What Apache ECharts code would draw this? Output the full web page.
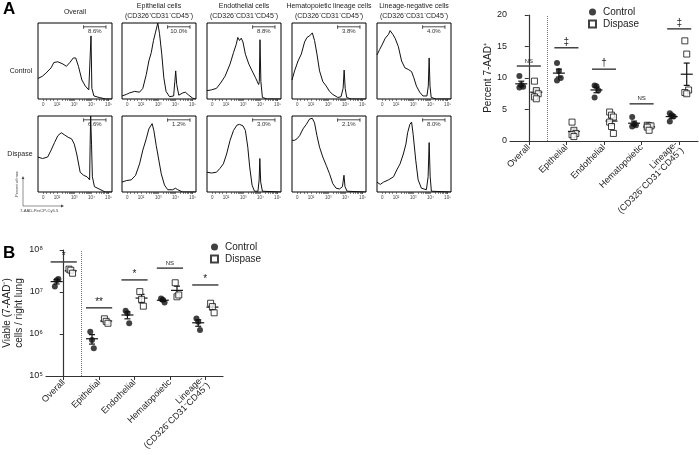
<!DOCTYPE html>
<html lang="en">
<head>
<meta charset="UTF-8">
<title>7-AAD viability by lineage</title>
<script src="https://cdn.jsdelivr.net/npm/echarts@6.0.0/dist/echarts.min.js"></script>
<style>
    html, body { margin: 0; padding: 0; background: #fff; }
    #main { width: 699px; height: 455px; }
</style>
</head>
<body>
<div id="main"></div>
<script type="text/javascript">

// ---------- data ----------
var categories = ['Overall', 'Epithelial', 'Endothelial', 'Hematopoietic', 'Lineage-\n(CD326⁻CD31⁻CD45⁻)'];
var histTitles = [
    ['Overall'],
    ['Epithelial cells', '(CD326⁺CD31⁻CD45⁻)'],
    ['Endothelial cells', '(CD326⁻CD31⁺CD45⁻)'],
    ['Hematopoietic lineage cells', '(CD326⁻CD31⁻CD45⁺)'],
    ['Lineage-negative cells', '(CD326⁻CD31⁻CD45⁻)']
];
var rowNames = ['Control', 'Dispase'];
var histTickPos = [1.2, 2, 3, 4, 5];
var histTickLabels = ['0', '10²', '10³', '10⁴', '10⁵'];
var gateRange = [3.55, 4.85];
var gateControl = ['8.6%', '10.0%', '8.8%', '3.8%', '4.0%'];
var gateDispase = ['6.6%', '1.2%', '3.0%', '2.1%', '8.0%'];

// histogram curves: [log10 fluorescence position, percent of max]
var histCtlOverall = [[0.9,27],[1.16,30],[1.36,34],[1.66,41],[1.82,48],[2.05,49],[2.35,46],[2.55,43],[2.75,48],[2.95,54],[3.09,54],[3.25,43],[3.45,25],[3.65,17],[3.85,12],[3.94,10],[3.98,83],[4.03,14],[4.15,4],[4.45,2],[4.84,0],[5.2,0]];
var histCtlEpi = [[0.9,4],[1.15,6],[1.34,8],[1.63,10],[1.92,9],[2.11,14],[2.31,32],[2.46,50],[2.6,61],[2.73,77],[2.85,88],[2.98,100],[3.08,86],[3.21,59],[3.33,28],[3.46,10],[3.66,3],[3.9,4],[3.97,23],[4.02,37],[4.08,19],[4.2,5],[4.43,8],[4.58,9],[4.78,5],[5.01,1],[5.2,0]];
var histCtlEndo = [[0.9,11],[1.16,12],[1.45,14],[1.69,21],[1.95,30],[2.24,46],[2.44,61],[2.6,72],[2.69,81],[2.79,77],[2.89,80],[2.99,75],[3.13,59],[3.33,46],[3.52,37],[3.72,28],[3.9,19],[3.94,23],[3.98,78],[4.03,23],[4.12,2],[4.41,0],[5.2,0]];
var histCtlHem = [[0.9,25],[1.05,37],[1.25,50],[1.44,59],[1.63,75],[1.77,81],[1.92,83],[2.08,87],[2.21,77],[2.35,59],[2.5,37],[2.69,23],[2.89,17],[3.08,10],[3.27,6],[3.56,2],[3.75,3],[3.87,14],[3.93,38],[3.99,14],[4.08,2],[4.33,0],[5.2,0]];
var histCtlLin = [[0.9,58],[1.05,65],[1.19,71],[1.38,80],[1.57,85],[1.66,90],[1.82,85],[1.95,80],[2.14,69],[2.33,50],[2.52,41],[2.71,39],[2.91,36],[3.04,28],[3.19,17],[3.38,9],[3.57,4],[3.8,4],[3.88,17],[3.93,54],[3.98,17],[4.05,2],[4.34,0],[5.2,0]];
var histDisOverall = [[0.9,46],[1.16,44],[1.46,46],[1.66,55],[1.86,65],[2.05,74],[2.25,78],[2.45,75],[2.65,72],[2.85,70],[3.01,63],[3.15,50],[3.35,26],[3.55,22],[3.75,20],[3.9,16],[3.93,63],[3.96,100],[4.01,63],[4.06,20],[4.18,7],[4.45,4],[4.8,0],[5.2,0]];
var histDisEpi = [[0.9,13],[1.15,15],[1.44,16],[1.69,22],[1.92,37],[2.11,55],[2.31,70],[2.46,83],[2.65,90],[2.75,81],[2.89,61],[3.04,42],[3.18,24],[3.37,9],[3.56,3],[3.85,3],[4.0,5],[4.14,3],[4.43,0],[5.2,0]];
var histDisEndo = [[0.9,26],[1.16,25],[1.45,26],[1.65,31],[1.85,37],[2.04,50],[2.24,68],[2.44,81],[2.64,88],[2.79,89],[2.99,87],[3.13,81],[3.27,59],[3.38,33],[3.52,9],[3.66,1],[3.86,1],[3.93,16],[3.97,44],[4.02,13],[4.12,1],[5.2,0]];
var histDisHem = [[0.9,68],[1.05,68],[1.19,70],[1.34,74],[1.54,83],[1.73,89],[1.92,96],[2.08,97],[2.21,91],[2.35,74],[2.5,59],[2.69,46],[2.89,35],[3.08,24],[3.27,11],[3.46,5],[3.66,4],[3.83,7],[3.92,22],[3.98,7],[4.1,1],[5.2,0]];
var histDisLin = [[0.9,13],[1.09,10],[1.28,13],[1.57,16],[1.86,20],[2.05,29],[2.24,37],[2.43,50],[2.58,63],[2.68,78],[2.81,89],[2.91,92],[3.0,76],[3.15,42],[3.29,16],[3.48,5],[3.77,3],[3.87,20],[3.93,65],[3.99,20],[4.06,1],[5.2,0]];

// percent 7-AAD+ per animal
var pctControl = [[10.3, 8.9, 8.6, 8.5], [12.4, 11.1, 10.0, 9.6], [8.8, 8.7, 8.0, 6.9], [3.8, 2.7, 2.5, 2.3], [4.4, 4.1, 3.9, 3.1]];
var pctDispase = [[9.5, 8.0, 7.5, 7.0, 6.7], [3.0, 1.7, 1.2, 1.0, 0.7], [4.6, 4.1, 3.8, 3.0, 2.3, 1.2], [2.5, 2.4, 2.4, 2.2, 1.7], [15.9, 13.8, 8.1, 7.7, 7.5]];
var sigA = [11.9, 14.8, 11.4, 5.9, 17.8];
var sigLabelsA = ['NS', '‡', '†', 'NS', '‡'];

// viable (7-AAD-) cells per right lung
var viableControl = [[1.35e7, 1.9e7, 2.05e7], [1.13e6, 7.2e5, 4.6e5], [3.6e6, 3.1e6, 1.8e6], [7.0e6, 6.5e6, 5.6e6], [2.35e6, 1.95e6, 1.25e6]];
var viableDispase = [[3.5e7, 3.3e7, 2.8e7], [2.3e6, 2.0e6, 1.8e6], [1.02e7, 6.7e6, 4.6e6], [1.66e7, 7.7e6, 8.5e6], [5.4e6, 4.5e6, 3.2e6]];
var sigB = [5.2e7, 4.2e6, 1.94e7, 3.7e7, 1.47e7];
var sigLabelsB = ['*', '**', '*', 'NS', '*'];

// ---------- helpers ----------
var FONT = '"Liberation Sans", Arial, Helvetica, sans-serif';
var TXT = '#222';
var supDigits = ['⁰','¹','²','³','⁴','⁵','⁶','⁷','⁸','⁹'];

function mean(a) { var s = 0; a.forEach(function (v) { s += v; }); return s / a.length; }
function sem(a) {
    var m = mean(a), s = 0;
    a.forEach(function (v) { s += (v - m) * (v - m); });
    return Math.sqrt(s / (a.length - 1)) / Math.sqrt(a.length);
}
function points(groups, shift) {
    var out = [];
    groups.forEach(function (g, i) {
        g.forEach(function (v, j) { out.push([i + shift + ((j % 3) - 1) * 0.05, v]); });
    });
    return out;
}
function stats(groups, shift) {
    return groups.map(function (g, i) {
        var m = mean(g), e = sem(g);
        return [i + shift, m, m - e, m + e];
    });
}
function errRender(params, api) {
    var pm = api.coord([api.value(0), api.value(1)]);
    var pl = api.coord([api.value(0), api.value(2)]);
    var ph = api.coord([api.value(0), api.value(3)]);
    var st = { stroke: '#111', lineWidth: 1.2 };
    return { type: 'group', children: [
        { type: 'line', shape: { x1: pm[0] - 6, y1: pm[1], x2: pm[0] + 6, y2: pm[1] }, style: st },
        { type: 'line', shape: { x1: pl[0], y1: pl[1], x2: ph[0], y2: ph[1] }, style: st },
        { type: 'line', shape: { x1: pl[0] - 3, y1: pl[1], x2: pl[0] + 3, y2: pl[1] }, style: st },
        { type: 'line', shape: { x1: ph[0] - 3, y1: ph[1], x2: ph[0] + 3, y2: ph[1] }, style: st }
    ] };
}
function sigRender(labels, half) {
    return function (params, api) {
        var i = api.value(0), y = api.value(1);
        var a = api.coord([i - half, y]), b = api.coord([i + half, y]);
        var lab = labels[params.dataIndex];
        return { type: 'group', children: [
            { type: 'line', shape: { x1: a[0], y1: a[1], x2: b[0], y2: b[1] }, style: { stroke: '#444', lineWidth: 1.5 } },
            { type: 'text', x: (a[0] + b[0]) / 2, y: a[1] - (lab === 'NS' ? 2 : 1),
              style: { text: lab, fontSize: lab === 'NS' ? 6 : 10, fill: TXT, fontFamily: FONT,
                       align: 'center', verticalAlign: 'bottom', textAlign: 'center', textVerticalAlign: 'bottom' } }
        ] };
    };
}
function gateRender(text) {
    return function (params, api) {
        var a = api.coord([api.value(0), api.value(2)]), b = api.coord([api.value(1), api.value(2)]);
        var st = { stroke: '#222', lineWidth: 0.8 };
        return { type: 'group', children: [
            { type: 'line', shape: { x1: a[0], y1: a[1], x2: b[0], y2: b[1] }, style: st },
            { type: 'line', shape: { x1: a[0], y1: a[1] - 1.5, x2: a[0], y2: a[1] + 2 }, style: st },
            { type: 'line', shape: { x1: b[0], y1: b[1] - 1.5, x2: b[0], y2: b[1] + 2 }, style: st },
            { type: 'text', x: (a[0] + b[0]) / 2, y: a[1] + 2,
              style: { text: text, fontSize: 6, fill: '#333', fontFamily: FONT,
                       align: 'center', verticalAlign: 'top', textAlign: 'center', textVerticalAlign: 'top' } }
        ] };
    };
}

// ---------- build ----------
var grids = [], xAxes = [], yAxes = [], series = [];

var histCols = [38, 122, 207, 292, 377];
var histRows = [23, 116];
var histCurves = [
    [histCtlOverall, histCtlEpi, histCtlEndo, histCtlHem, histCtlLin],
    [histDisOverall, histDisEpi, histDisEndo, histDisHem, histDisLin]
];
var gateLabels = [gateControl, gateDispase];

var histTicks = [1.2, 1.4, 1.6, 1.8];
for (var d = 2; d <= 4; d++) {
    for (var k = 1; k <= 9; k++) histTicks.push(d + Math.log10(k));
}
histTicks.push(5);

for (var r = 0; r < 2; r++) {
    for (var c = 0; c < 5; c++) {
        var gi = grids.length;
        grids.push({ left: histCols[c], top: histRows[r], width: 74, height: 76,
                     show: true, borderColor: '#000', borderWidth: 1 });
        xAxes.push({
            gridIndex: gi, type: 'value', min: 0.9, max: 5.2,
            axisLine: { show: false }, splitLine: { show: false },
            axisTick: { show: true, customValues: histTicks, length: 2, lineStyle: { color: '#333', width: 0.6 } },
            axisLabel: {
                show: true, customValues: histTickPos, fontSize: 4.5, color: '#444', margin: 3, fontFamily: FONT,
                formatter: function (v) {
                    for (var i = 0; i < histTickPos.length; i++) if (Math.abs(histTickPos[i] - v) < 1e-6) return histTickLabels[i];
                    return '';
                }
            }
        });
        yAxes.push({ gridIndex: gi, type: 'value', min: 0, max: 100, show: false });
        series.push({ type: 'line', xAxisIndex: gi, yAxisIndex: gi, data: histCurves[r][c],
                      symbol: 'none', showSymbol: false, silent: true,
                      lineStyle: { color: '#111', width: 1 } });
        series.push({ type: 'custom', xAxisIndex: gi, yAxisIndex: gi, silent: true,
                      data: [[gateRange[0], gateRange[1], 95]], renderItem: gateRender(gateLabels[r][c]) });
    }
}

function catXAxis(gi) {
    return {
        gridIndex: gi, type: 'value', min: -0.5, max: 4.5,
        axisLine: { show: true, lineStyle: { color: '#333', width: 1.2 } },
        axisTick: { show: true, customValues: [0, 1, 2, 3, 4], length: 4, lineStyle: { color: '#333', width: 1 } },
        axisLabel: { show: true, customValues: [0, 1, 2, 3, 4], rotate: 45, fontSize: 9, color: TXT, margin: 5, fontFamily: FONT,
                     formatter: function (v) { return categories[Math.round(v)]; } },
        splitLine: { show: false }
    };
}
function sepLine() {
    return { symbol: 'none', silent: true, label: { show: false },
             lineStyle: { type: 'dotted', color: '#777', width: 1 }, data: [{ xAxis: 0.5 }] };
}

// Percent 7-AAD+
var ga = grids.length;
grids.push({ left: 510, top: 15, width: 188, height: 126 });
xAxes.push(catXAxis(ga));
yAxes.push({
    gridIndex: ga, type: 'value', min: 0, max: 20, interval: 5,
    name: 'Percent 7-AAD⁺', nameLocation: 'middle', nameGap: 17,
    nameTextStyle: { fontSize: 10, color: TXT, fontFamily: FONT },
    axisLine: { show: true, lineStyle: { color: '#333', width: 1.2 } },
    axisTick: { show: true, length: 4, lineStyle: { color: '#333' } },
    axisLabel: { fontSize: 9, color: TXT, margin: 3, fontFamily: FONT },
    splitLine: { show: false }
});
series.push({ name: 'Control', type: 'scatter', xAxisIndex: ga, yAxisIndex: ga, symbol: 'circle', symbolSize: 6,
              itemStyle: { color: '#111' }, data: points(pctControl, -0.2), markLine: sepLine() });
series.push({ name: 'Dispase', type: 'scatter', xAxisIndex: ga, yAxisIndex: ga, symbol: 'rect', symbolSize: 6,
              itemStyle: { color: '#fff', borderColor: '#111', borderWidth: 1 }, data: points(pctDispase, 0.2) });
series.push({ type: 'custom', xAxisIndex: ga, yAxisIndex: ga, silent: true, data: stats(pctControl, -0.2), renderItem: errRender });
series.push({ type: 'custom', xAxisIndex: ga, yAxisIndex: ga, silent: true, data: stats(pctDispase, 0.2), renderItem: errRender });
series.push({ type: 'custom', xAxisIndex: ga, yAxisIndex: ga, silent: true,
              data: sigA.map(function (v, i) { return [i, v]; }), renderItem: sigRender(sigLabelsA, 0.32) });

// Viable cells
var gb = grids.length;
grids.push({ left: 46, top: 250, width: 177, height: 126 });
xAxes.push(catXAxis(gb));
yAxes.push({
    gridIndex: gb, type: 'log', logBase: 10, min: 1e5, max: 1e8,
    name: 'Viable (7-AAD⁻)\ncells / right lung', nameLocation: 'middle', nameGap: 15,
    nameTextStyle: { fontSize: 10, color: TXT, fontFamily: FONT, lineHeight: 12 },
    axisLine: { show: true, lineStyle: { color: '#333', width: 1.2 } },
    axisTick: { show: true, length: 4, lineStyle: { color: '#333' } },
    axisLabel: { fontSize: 9, color: TXT, margin: 3, fontFamily: FONT,
                 formatter: function (v) { return '10' + supDigits[Math.round(Math.log10(v))]; } },
    splitLine: { show: false }
});
series.push({ name: 'Control', type: 'scatter', xAxisIndex: gb, yAxisIndex: gb, symbol: 'circle', symbolSize: 6,
              itemStyle: { color: '#111' }, data: points(viableControl, -0.2), markLine: sepLine() });
series.push({ name: 'Dispase', type: 'scatter', xAxisIndex: gb, yAxisIndex: gb, symbol: 'rect', symbolSize: 6,
              itemStyle: { color: '#fff', borderColor: '#111', borderWidth: 1 }, data: points(viableDispase, 0.2) });
series.push({ type: 'custom', xAxisIndex: gb, yAxisIndex: gb, silent: true, data: stats(viableControl, -0.2), renderItem: errRender });
series.push({ type: 'custom', xAxisIndex: gb, yAxisIndex: gb, silent: true, data: stats(viableDispase, 0.2), renderItem: errRender });
series.push({ type: 'custom', xAxisIndex: gb, yAxisIndex: gb, silent: true,
              data: sigB.map(function (v, i) { return [i, v]; }), renderItem: sigRender(sigLabelsB, 0.37) });

// ---------- text decorations ----------
function txt(x, y, s, size, opt) {
    opt = opt || {};
    return { type: 'text', x: x, y: y, rotation: opt.rot || 0, silent: true,
             style: { text: s, fontSize: size, fill: opt.color || TXT, fontFamily: FONT,
                      fontWeight: opt.bold ? 'bold' : 'normal',
                      align: opt.align || 'center', verticalAlign: 'middle',
                      textAlign: opt.align || 'center', textVerticalAlign: 'middle' } };
}
var graphics = [];
graphics.push(txt(3, 9, 'A', 17, { bold: true, align: 'left', color: '#000' }));
graphics.push(txt(3, 253, 'B', 17, { bold: true, align: 'left', color: '#000' }));
histTitles.forEach(function (t, i) {
    var cx = histCols[i] + 37;
    if (t.length === 1) graphics.push(txt(cx, 12, t[0], 7));
    else { graphics.push(txt(cx, 6, t[0], 7)); graphics.push(txt(cx, 16, t[1], 7)); }
});
graphics.push(txt(21, 71, rowNames[0], 7));
graphics.push(txt(20, 154, rowNames[1], 7));
graphics.push(txt(17, 184, 'Percent of max', 3.8, { rot: Math.PI / 2, color: '#444' }));
graphics.push(txt(20, 211, '7-AAD-PerCP-Cy5.5', 4.2, { align: 'left', color: '#444' }));
graphics.push({ type: 'polyline', silent: true, shape: { points: [[23, 178], [23, 206], [62, 206]] },
                style: { stroke: '#444', lineWidth: 0.6, fill: null } });
graphics.push({ type: 'polygon', silent: true, shape: { points: [[21.6, 179], [24.4, 179], [23, 176]] }, style: { fill: '#444' } });
graphics.push({ type: 'polygon', silent: true, shape: { points: [[61, 204.6], [61, 207.4], [64, 206]] }, style: { fill: '#444' } });

var legendBase = {
    orient: 'vertical', itemWidth: 7, itemHeight: 7, itemGap: 2, selectedMode: false,
    data: ['Control', 'Dispase'],
    textStyle: { fontSize: 10, color: TXT, fontFamily: FONT, padding: [0, 0, 0, 2] }
};

var chart = echarts.init(document.getElementById('main'));
chart.setOption({
    animation: false,
    backgroundColor: '#fff',
    grid: grids,
    xAxis: xAxes,
    yAxis: yAxes,
    legend: [
        Object.assign({ left: 583, top: 2 }, legendBase),
        Object.assign({ left: 205, top: 237 }, legendBase)
    ],
    graphic: graphics,
    series: series
});
</script>
</body>
</html>
